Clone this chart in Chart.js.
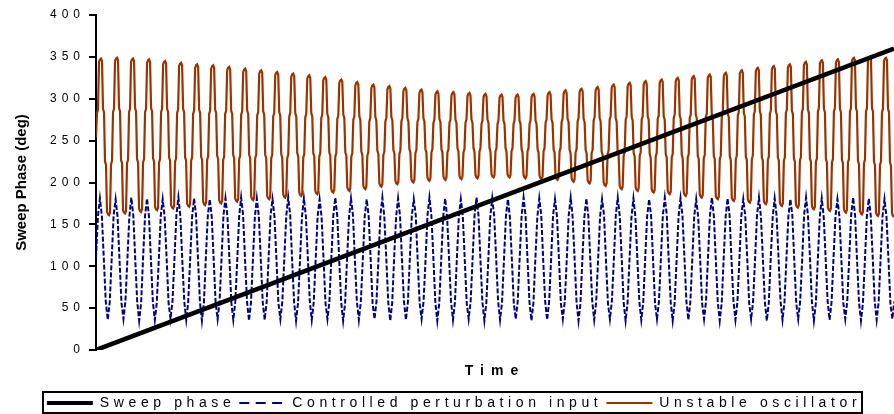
<!DOCTYPE html>
<html>
<head>
<meta charset="utf-8">
<script src="https://cdn.jsdelivr.net/npm/chart.js@4/dist/chart.umd.min.js"></script>
<style>
html,body{margin:0;padding:0;background:#fff;}
#wrap{width:894px;height:414px;position:relative;}
</style>
</head>
<body>
<div id="wrap"><canvas id="c" width="894" height="414"></canvas></div>
<script>
// ---------------- data ----------------
const seriesNames = ['Sweep phase', 'Controlled perturbation input', 'Unstable oscillator'];
const xTitle = 'Time';
const yTitle = 'Sweep Phase (deg)';
const yTickValues = [0, 50, 100, 150, 200, 250, 300, 350, 400];

// time in sample units
const timeEnd = 797;
const sweepTime = [0, 797];
const sweepPhase = [0, 360];

const perturbStep = 1.959;
const perturbInput = [
110,160,181,160,108,57,36,57,
109,161,180,159,107,56,37,58,
108,159,182,161,109,58,35,56,
110,160,181,160,108,57,36,57,
107,160,180,159,110,56,37,58,
109,161,182,160,107,58,36,57,
108,159,181,161,109,57,35,56,
110,160,180,159,108,56,37,58,
109,161,181,160,110,57,36,57,
107,160,182,161,107,58,35,56,
108,159,181,160,109,57,36,57,
110,161,180,159,108,56,37,58,
109,160,182,161,107,57,35,56,
107,159,181,160,110,58,36,57,
108,160,180,159,109,56,37,58,
110,161,182,160,108,57,35,56,
109,159,181,161,107,58,36,57,
107,160,180,160,110,56,37,58,
108,161,182,159,109,57,35,56,
110,159,181,160,108,58,36,57,
109,160,180,161,107,56,37,58,
107,161,182,160,110,57,35,56,
108,159,181,159,109,58,36,57,
110,160,180,160,108,56,37,58,
109,161,182,161,107,57,35,56,
107,159,181,160,110,58,36,57,
108,160,180,159,109,56,37,58,
110,161,182,160,108,57,35,56,
109,159,181,161,107,58,36,57,
107,160,180,160,110,56,37,58,
108,161,182,159,109,57,35,56,
110,159,181,160,108,58,36,57,
109,160,180,161,107,56,37,58,
107,161,182,160,110,57,35,56,
108,159,181,159,109,58,36,57,
110,160,180,160,108,56,37,58,
109,161,182,161,107,57,35,56,
107,159,181,160,110,58,36,57,
108,160,180,159,109,56,37,58,
110,161,182,160,108,57,35,56,
109,159,181,161,107,58,36,57,
107,160,180,160,110,56,37,58,
108,161,182,159,109,57,35,56,
110,159,181,160,108,58,36,57,
109,160,180,161,107,56,37,58,
107,161,182,160,110,57,35,56,
108,159,181,159,109,58,36,57,
110,160,180,160,108,56,37,58,
109,161,182,161,107,57,35,56,
107,159,181,160,110,58,36,57,
108,160,180,159,109,56,37,58
];

const oscStep = 1;
const oscPhase = [
254,283,287,344,347,348,345,288,284,225,221,165,162,
161,164,222,226,284,288,345,348,349,346,289,285,227,223,167,164,
163,166,223,227,284,288,344,347,348,345,289,285,228,224,169,166,
165,168,224,228,284,288,343,346,347,344,289,285,229,225,171,168,
167,170,224,228,284,288,341,344,345,342,288,284,230,226,173,170,
169,172,225,229,283,287,339,342,343,340,288,284,230,226,175,172,
171,174,226,230,282,286,337,340,341,338,287,283,231,227,177,174,
173,176,227,231,282,286,336,339,340,337,287,283,232,228,179,176,
175,178,227,231,282,286,334,337,338,335,286,282,233,229,181,178,
177,180,228,232,281,285,332,335,336,333,286,282,233,229,183,180,
179,182,229,233,280,284,330,333,334,331,285,281,233,229,184,181,
180,183,229,233,279,283,328,331,332,329,284,280,234,230,186,183,
182,185,229,233,279,283,326,329,330,327,283,279,235,231,188,185,
184,187,230,234,278,282,324,327,328,325,283,279,235,231,190,187,
186,189,231,235,277,281,322,325,326,323,282,278,236,232,192,189,
188,191,231,235,276,280,319,322,323,320,281,277,236,232,194,191,
190,193,231,235,275,279,316,319,320,317,279,275,237,233,196,193,
192,195,232,236,273,277,313,316,317,314,278,274,238,234,199,196,
195,198,233,237,273,277,311,314,315,312,278,274,239,235,202,199,
198,201,234,238,273,277,309,312,313,310,277,273,240,236,204,201,
200,203,235,239,272,276,307,310,311,308,277,273,240,236,206,203,
202,205,236,240,271,275,305,308,309,306,276,272,240,236,207,204,
203,206,236,240,271,275,304,307,308,305,275,271,241,237,208,205,
204,207,236,240,271,275,303,306,307,304,275,271,241,237,209,206,
205,208,237,241,270,274,302,305,306,303,275,271,241,237,210,207,
206,209,237,241,270,274,301,304,305,302,274,270,241,237,210,207,
206,209,237,241,270,274,301,304,305,302,274,270,240,236,209,206,
205,208,237,241,270,274,302,305,306,303,274,270,240,236,208,205,
204,207,237,241,271,275,304,307,308,305,275,271,240,236,207,204,
203,206,237,241,272,276,306,309,310,307,276,272,239,235,205,202,
201,204,236,240,273,277,308,311,312,309,276,272,239,235,203,200,
199,202,235,239,274,278,310,313,314,311,277,273,237,233,200,197,
196,199,234,238,275,279,313,316,317,314,277,273,236,232,196,193,
192,195,232,236,275,279,315,318,319,316,278,274,235,231,194,191,
190,193,232,236,275,279,317,320,321,318,279,275,234,230,192,189,
188,191,231,235,276,280,319,322,323,320,279,275,234,230,190,187,
186,189,230,234,277,281,321,324,325,322,280,276,233,229,188,185,
184,187,230,234,277,281,323,326,327,324,281,277,232,228,186,183,
182,185,229,233,278,282,325,328,329,326,281,277,232,228,184,181,
180,183,228,232,279,283,327,330,331,328,282,278,231,227,182,179,
178,181,228,232,280,284,330,333,334,331,283,279,231,227,180,177,
176,179,228,232,281,285,333,336,337,334,285,281,230,226,178,175,
174,177,227,231,282,286,335,338,339,336,285,281,230,226,176,173,
172,175,226,230,283,287,337,340,341,338,286,282,229,225,174,171,
170,173,226,230,284,288,340,343,344,341,287,283,229,225,172,169,
168,171,225,229,285,289,342,345,346,343,288,284,228,224,170,167,
166,169,224,228,285,289,343,346,347,344,288,284,227,223,168,165,
164,167,224,228,285,289,345,348,349,346,289,285,226,222,166,163,
162,165,223,227,285,289,346,349,350,347,289,285,225,221,164,161,
160,163,221,225,284,288,345,348,349,346,288,284,224,220,163,160,
159,162
];

// ---------------- helpers ----------------
const FONT = "'Liberation Sans', Arial, Helvetica, sans-serif";
Chart.defaults.font.family = FONT;
Chart.defaults.color = '#000';

function withSpacing(obj, fnName, spacing) {
  const orig = obj && obj[fnName];
  if (!orig || orig.__spaced) return;
  const wrapped = function (...args) {
    const ctx = this.ctx;
    const prev = ctx.letterSpacing;
    ctx.letterSpacing = spacing;
    try { return orig.apply(this, args); }
    finally { ctx.letterSpacing = prev; }
  };
  wrapped.__spaced = true;
  obj[fnName] = wrapped;
}

const spacingPlugin = {
  id: 'spacing',
  beforeLayout(chart) {
    if (chart.legend) {
      withSpacing(chart.legend, 'fit', '4.6px');
      withSpacing(chart.legend, 'draw', '4.6px');
    }
    withSpacing(chart.scales.y, 'drawLabels', '5px');
    withSpacing(chart.scales.x, 'drawTitle', '7px');
  },
  afterLayout(chart) {
    const lg = chart.legend;
    if (lg) { lg.left += 7; lg.right += 7; }
  }
};

const legendFrame = {
  id: 'legendFrame',
  afterDraw(chart) {
    const lg = chart.legend;
    if (!lg || !lg.legendHitBoxes || !lg.legendHitBoxes.length) return;
    const hb = lg.legendHitBoxes;
    const l = Math.min(...hb.map(h => h.left));
    const r = Math.max(...hb.map(h => h.left + h.width));
    const t = Math.min(...hb.map(h => h.top));
    const b = Math.max(...hb.map(h => h.top + h.height));
    const ctx = chart.ctx;
    ctx.save();
    ctx.strokeStyle = '#000';
    ctx.lineWidth = 2;
    ctx.strokeRect(Math.round(l - 4), Math.round(t - 4), Math.round(r - l + 5), Math.round(b - t + 7));
    ctx.restore();
  }
};

// symmetric dash so the zero-height legend box stroke keeps its gaps
const legendDash = [10, 6.4];

new Chart(document.getElementById('c'), {
  type: 'line',
  data: {
    datasets: [
      {
        label: seriesNames[0],
        data: sweepTime.map((t, i) => ({ x: t, y: sweepPhase[i] })),
        borderColor: '#000000',
        backgroundColor: 'rgba(0,0,0,0)',
        borderWidth: 4.5,
        pointRadius: 0,
        tension: 0
      },
      {
        label: seriesNames[1],
        data: perturbInput.map((v, i) => ({ x: i * perturbStep, y: v })),
        borderColor: '#000080',
        backgroundColor: 'rgba(0,0,0,0)',
        borderWidth: 2,
        borderDash: [5, 2],
        pointRadius: 0,
        tension: 0
      },
      {
        label: seriesNames[2],
        data: oscPhase.map((v, i) => ({ x: i * oscStep, y: v })),
        borderColor: '#993300',
        backgroundColor: 'rgba(0,0,0,0)',
        borderWidth: 2.2,
        pointRadius: 0,
        tension: 0
      }
    ]
  },
  options: {
    responsive: false,
    devicePixelRatio: 1,
    animation: false,
    events: [],
    layout: { padding: { top: 15, right: 0, bottom: -6, left: 0 } },
    scales: {
      x: {
        type: 'linear',
        min: 0,
        max: timeEnd,
        ticks: { display: false },
        grid: { display: false },
        border: { display: false },
        title: {
          display: true,
          text: xTitle,
          color: '#000',
          font: { family: FONT, size: 14, weight: 'bold' },
          padding: { top: 0, bottom: 12 }
        },
        afterFit(s) { s.height = 42; }
      },
      y: {
        type: 'linear',
        min: 0,
        max: 400,
        afterBuildTicks(s) { s.ticks = yTickValues.map(v => ({ value: v })); },
        afterFit(s) { s.width = 96; },
        ticks: { color: '#000', font: { family: FONT, size: 12 }, padding: 4 },
        grid: { drawOnChartArea: false, drawTicks: true, tickLength: 7, color: '#000', lineWidth: 2 },
        border: { display: true, color: '#000', width: 2 },
        title: {
          display: true,
          text: yTitle,
          color: '#000',
          font: { family: FONT, size: 15, weight: 'bold' },
          padding: { top: 13, bottom: 0 }
        }
      }
    },
    plugins: {
      tooltip: { enabled: false },
      legend: {
        display: true,
        position: 'bottom',
        align: 'center',
        labels: {
          color: '#000',
          font: { family: FONT, size: 14 },
          boxWidth: 46,
          boxHeight: 0,
          padding: 4,
          generateLabels(chart) {
            const items = Chart.defaults.plugins.legend.labels.generateLabels(chart);
            items.forEach(it => { it.fillStyle = 'rgba(0,0,0,0)'; it.lineCap = 'butt'; });
            if (items[0]) items[0].lineWidth = 4;
            if (items[1]) { items[1].lineDash = legendDash; items[1].lineDashOffset = 0; }
            return items;
          }
        }
      }
    }
  },
  plugins: [spacingPlugin, legendFrame]
});
</script>
</body>
</html>
